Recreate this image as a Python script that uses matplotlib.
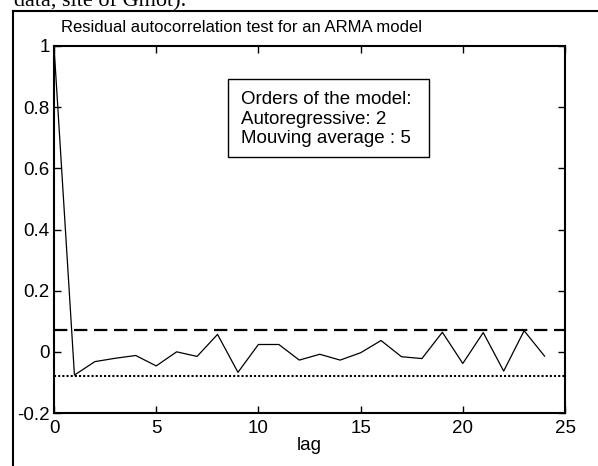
import matplotlib
matplotlib.use('Agg')
import matplotlib.pyplot as plt
from matplotlib.patches import Rectangle

plt.rcParams['font.family'] = ['Liberation Sans', 'DejaVu Sans']

# residual autocorrelation values, lag 0..24
lags = list(range(25))
acf = [1.0, -0.076, -0.032, -0.021, -0.012, -0.046, 0.0, -0.015, 0.057,
       -0.067, 0.024, 0.024, -0.027, -0.008, -0.027, -0.003, 0.037,
       -0.016, -0.022, 0.064, -0.038, 0.063, -0.063, 0.069, -0.014]
upper_bound = 0.07
lower_bound = -0.079

xticks = [0, 5, 10, 15, 20, 25]
yticks = [-0.2, 0, 0.2, 0.4, 0.6, 0.8, 1]
ytick_labels = ['-0.2', '0', '0.2', '0.4', '0.6', '0.8', '1']
box_lines = ['Orders of the model:', 'Autoregressive: 2', 'Mouving average : 5']

W, H = 598, 466
fig = plt.figure(figsize=(W / 100, H / 100), dpi=100)

def fx(px):
    return px / W

def fy(py):
    return 1 - py / H

# axes: x 54..565, y 46..413 (pixels)
ax = fig.add_axes([fx(54), fy(413), fx(565) - fx(54), fy(46) - fy(413)])
ax.plot(lags, acf, color='black', lw=0.9)
ax.axhline(upper_bound, color='black', lw=1.6, ls=(0, (6, 3)))
ax.axhline(lower_bound, color='black', lw=1.5, ls=(0, (1, 1)))
ax.set_xlim(0, 25)
ax.set_ylim(-0.2, 1)
ax.set_xticks(xticks)
ax.set_xticklabels([str(t) for t in xticks])
ax.set_yticks(yticks)
ax.set_yticklabels(ytick_labels)
ax.tick_params(direction='in', length=5, width=1, top=True, right=True,
               labelsize=13.5, pad=3)
ax.tick_params(axis='x', pad=5)
for s in ax.spines.values():
    s.set_linewidth(1.5)
ax.set_xlabel('lag', fontsize=13.5, labelpad=0)

# title placed as in the reference
fig.text(fx(61), fy(28), 'Residual autocorrelation test for an ARMA model',
         fontsize=12, ha='left', va='center')

# text box with model orders
fig.add_artist(Rectangle((fx(228), fy(157)), fx(429) - fx(228), fy(79) - fy(157),
                         transform=fig.transFigure, fill=False, lw=1.0,
                         edgecolor='black'))
for i, line in enumerate(box_lines):
    fig.text(fx(241), fy(100 + 19.5 * i), line, fontsize=13.5, ha='left', va='center')

# surrounding document frame and cut-off caption text
fig.add_artist(plt.Line2D([fx(13), 1], [fy(11), fy(11)], transform=fig.transFigure,
                          color='black', lw=1.5))
fig.add_artist(plt.Line2D([fx(13), fx(13)], [fy(11), 0], transform=fig.transFigure,
                          color='black', lw=1.5))
fig.text(fx(14), fy(2), 'data, site of Gmot).', fontsize=16,
         family=['Liberation Serif', 'DejaVu Serif'], ha='left', va='center')

fig.savefig('out.png', dpi=100)
